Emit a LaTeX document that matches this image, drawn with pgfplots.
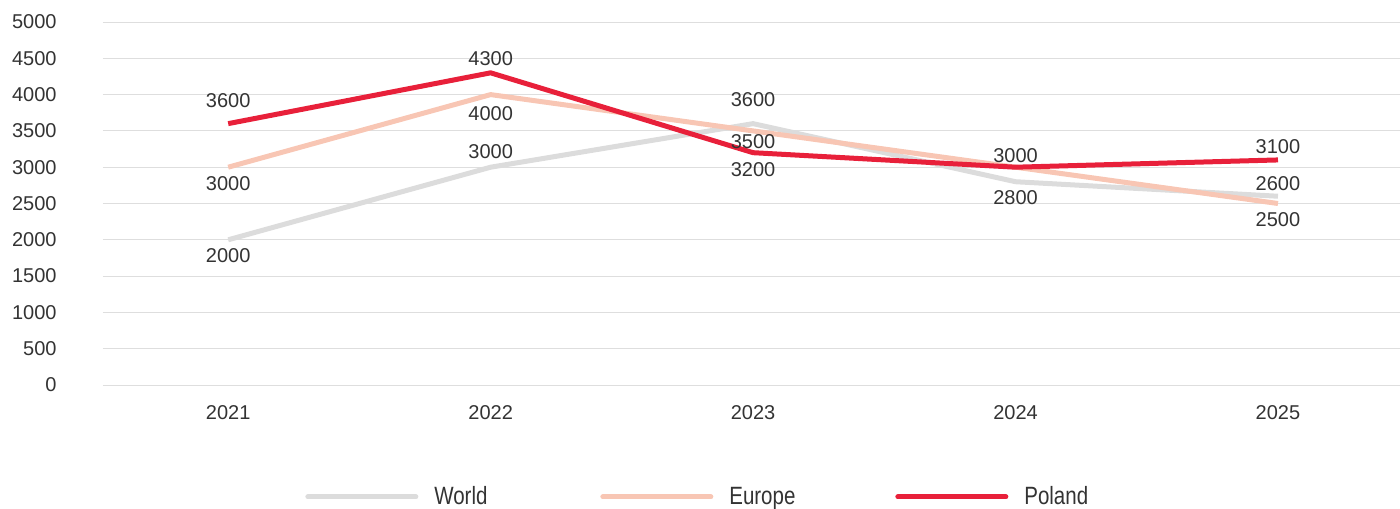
\documentclass[border=0pt]{standalone}
\usepackage{fontspec}
\setmainfont{Liberation Sans}
\usepackage{graphicx}
\usepackage{pgfplots}
\usepackage{pgfplotstable}
\pgfplotsset{compat=1.18}

\definecolor{worldc}{HTML}{DCDCDC}
\definecolor{europec}{HTML}{F8C6B4}
\definecolor{polandc}{HTML}{E8203A}
\definecolor{gridc}{HTML}{DEDEDE}
\definecolor{txt}{HTML}{333333}

% condensed legend text
\newcommand{\narrow}[1]{\scalebox{0.82}[1]{\fontsize{12.5pt}{14pt}\selectfont #1}}

% x = year index, y = value, lbl = printed label, off = label offset (pt, + above, - below)
\pgfplotstableread{
x y lbl off
0 2000 2000 -8
1 3000 3000 8
2 3600 3600 11.8
3 2800 2800 -8
4 2600 2600 6.5
}\worlddata
\pgfplotstableread{
x y lbl off
0 3000 3000 -8
1 4000 4000 -9.5
2 3500 3500 -5.5
3 3000 3000 6
4 2500 2500 -8
}\europedata
% 2024 label is shared with the Europe series
\pgfplotstableread{
x y lbl off
0 3600 3600 11.5
1 4300 4300 7
2 3200 3200 -8.5
3 3000 {} 6
4 3100 3100 6.5
}\polanddata

\begin{document}
\begin{tikzpicture}
\useasboundingbox (-51.5pt,-61.5pt) rectangle (648.5pt,192.5pt);
\begin{axis}[
  at={(0,0)}, anchor=south west,
  scale only axis, width=648.5pt, height=181.5pt,
  xmin=-0.477, xmax=4.465, ymin=0, ymax=5000,
  xtick={0,1,2,3,4}, xticklabels={2021,2022,2023,2024,2025},
  ytick={0,500,...,5000},
  ymajorgrids, grid style={gridc, line width=0.5pt},
  axis line style={draw=none},
  major tick length=0pt,
  clip=false,
  /pgf/number format/assume math mode=true,
  /pgf/number format/1000 sep={},
  scaled y ticks=false,
  tick label style={font=\fontsize{10pt}{12pt}\selectfont, text=txt},
  xticklabel style={anchor=center, yshift=-14pt},
  yticklabel style={anchor=east, xshift=-19.7pt},
  nodes near coords,
  point meta=explicit symbolic,
  visualization depends on={\thisrow{off} \as \lbloff},
  every node near coord/.append style={anchor=center, yshift=\lbloff*1pt,
    font=\fontsize{10pt}{12pt}\selectfont, text=txt},
  legend columns=3,
  legend style={draw=none, fill=none, inner sep=0pt,
    at={(axis description cs:0.1557,-0.3085)}, anchor=west,
    nodes={inner sep=0pt, text width=83pt, align=left, text=txt},
    /tikz/every odd column/.append style={column sep=8pt}},
  legend image code/.code={\draw[#1, line cap=round] (1.25pt,0pt) -- (55.25pt,0pt);},
]
\addplot[worldc, line width=2.5pt, line join=round] table[x=x, y=y, meta=lbl] {\worlddata};
\addlegendentry{\narrow{World}}
\addplot[europec, line width=2.5pt, line join=round] table[x=x, y=y, meta=lbl] {\europedata};
\addlegendentry{\narrow{Europe}}
\addplot[polandc, line width=2.5pt, line join=round] table[x=x, y=y, meta=lbl] {\polanddata};
\addlegendentry{\narrow{Poland}}
\end{axis}
\end{tikzpicture}
\end{document}
